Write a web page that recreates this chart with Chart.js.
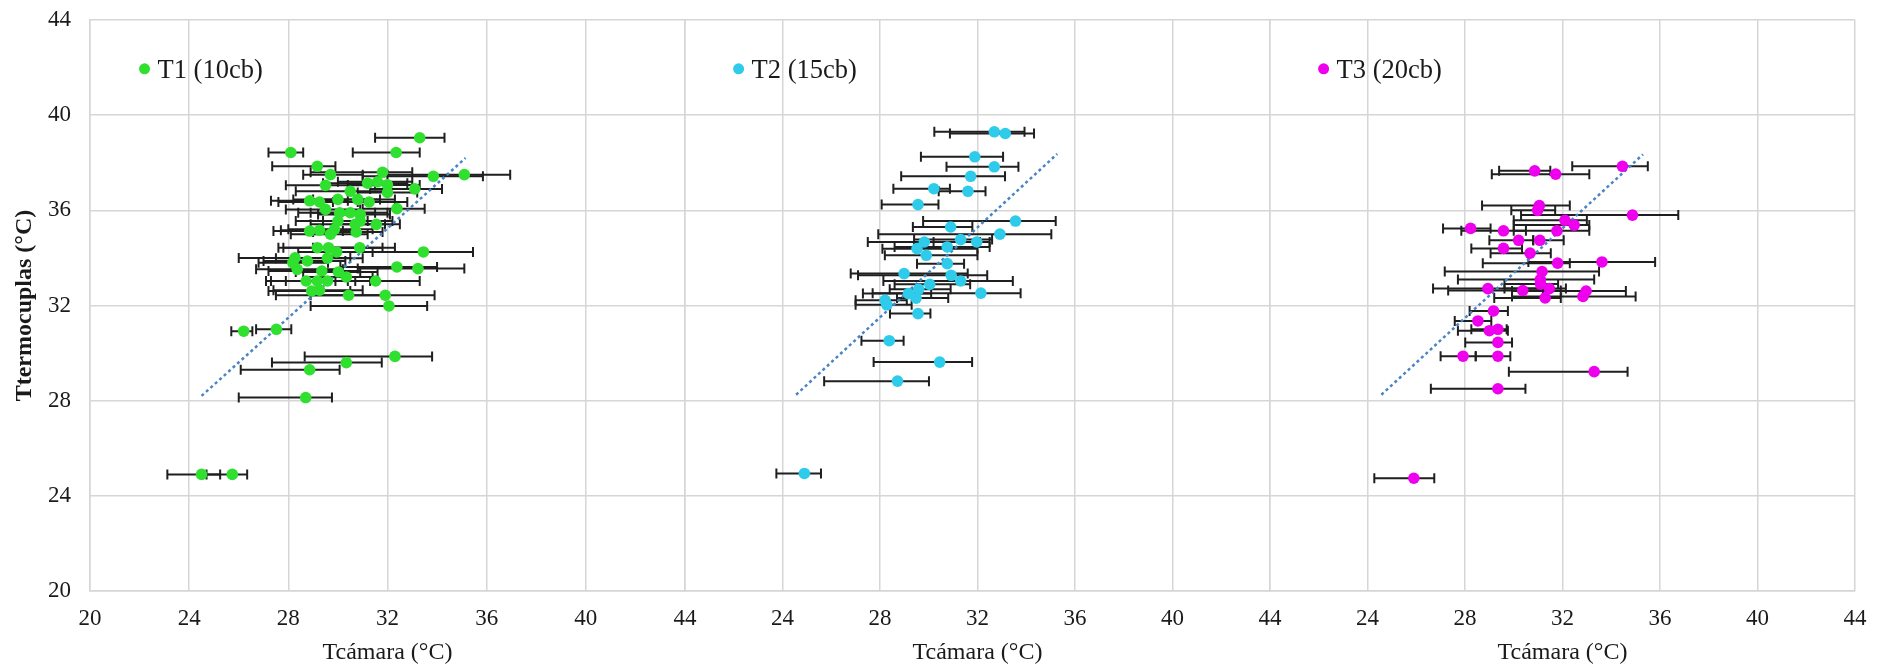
<!DOCTYPE html>
<html>
<head>
<meta charset="utf-8">
<script src="https://cdn.jsdelivr.net/npm/chart.js@4.4.1/dist/chart.umd.min.js"></script>
<style>
  html, body { margin: 0; padding: 0; background: #fff; }
  canvas { display: block; }
</style>
</head>
<body>
<canvas id="chart" width="1886" height="671"></canvas>
<script>
// T1 (10cb): Tcámara, Ttermocuplas, error bar ends on Tcámara
var t1Tcam = [33.3, 28.1, 32.35, 29.17, 29.7, 31.8, 33.85, 35.1, 29.5, 30.5, 31.2, 31.6, 32.0, 32.0, 33.1, 28.86, 29.26, 30.0, 30.8, 31.26, 29.5, 32.38, 30.07, 30.5, 30.9, 30.9, 30.7, 31.55, 30.0, 29.86, 28.86, 29.26, 29.7, 30.74, 29.17, 29.62, 29.95, 30.88, 33.45, 28.27, 28.18, 28.77, 29.58, 28.36, 29.35, 30.02, 32.38, 33.23, 30.34, 28.72, 29.17, 29.58, 31.52, 28.94, 29.26, 30.43, 31.91, 32.06, 26.2, 27.52, 32.3, 30.34, 28.86, 28.7, 24.5, 25.74];
var t1Ttermo = [39.05, 38.43, 38.43, 37.85, 37.5, 37.6, 37.43, 37.5, 37.05, 36.8, 37.14, 37.2, 37.07, 36.75, 36.9, 36.4, 36.35, 36.46, 36.46, 36.35, 36.04, 36.07, 35.9, 35.9, 35.83, 35.55, 35.41, 35.41, 35.55, 35.2, 35.13, 35.16, 35.0, 35.09, 34.43, 34.43, 34.25, 34.43, 34.25, 34.0, 33.8, 33.87, 33.99, 33.52, 33.45, 33.41, 33.62, 33.55, 33.2, 33.03, 33.03, 33.03, 33.03, 32.61, 32.64, 32.43, 32.43, 31.98, 30.92, 31.0, 29.86, 29.6, 29.3, 28.13, 24.9, 24.9];
var t1Lo = [31.5, 27.2, 30.6, 27.35, 28.6, 28.9, 31.0, 32.0, 27.9, 28.3, 29.4, 30.0, 30.4, 30.8, 31.3, 27.3, 27.6, 28.2, 29.0, 29.8, 27.9, 31.0, 28.4, 28.9, 29.2, 29.4, 28.9, 30.0, 28.3, 28.0, 27.4, 27.7, 28.1, 29.0, 27.6, 27.8, 28.4, 29.0, 29.8, 26.0, 26.8, 27.0, 27.5, 26.7, 27.2, 28.3, 30.1, 30.8, 28.6, 27.1, 27.3, 27.9, 29.9, 27.2, 27.4, 27.5, 28.9, 28.9, 25.7, 26.7, 28.66, 27.34, 26.08, 26.0, 23.12, 24.7];
var t1Hi = [34.3, 28.6, 33.3, 29.9, 31.0, 33.0, 35.85, 36.95, 31.5, 32.0, 32.8, 33.0, 33.3, 33.2, 34.2, 30.4, 30.8, 31.7, 32.3, 32.8, 30.9, 33.5, 31.5, 32.0, 32.1, 32.2, 31.9, 32.5, 31.2, 31.4, 30.2, 30.6, 31.2, 31.8, 31.8, 30.9, 31.4, 32.3, 35.45, 30.5, 29.6, 30.3, 31.0, 30.2, 30.9, 31.6, 34.0, 35.1, 31.4, 30.4, 30.7, 31.3, 33.3, 30.5, 31.0, 31.9, 33.9, 33.6, 26.55, 28.12, 33.8, 31.77, 30.07, 29.76, 25.25, 26.34];

// T2 (15cb)
var t2Tcam = [32.69, 33.14, 31.89, 32.69, 31.72, 30.21, 31.61, 29.56, 33.56, 30.9, 32.92, 29.82, 31.31, 31.97, 29.52, 30.76, 29.9, 30.76, 28.99, 30.92, 31.31, 30.04, 29.59, 29.17, 29.48, 32.14, 28.21, 28.28, 29.56, 28.38, 30.45, 28.72, 24.9];
var t2Ttermo = [39.3, 39.23, 38.25, 37.83, 37.43, 36.91, 36.8, 36.24, 35.55, 35.3, 35.0, 34.67, 34.77, 34.67, 34.39, 34.46, 34.11, 33.76, 33.34, 33.27, 33.03, 32.89, 32.68, 32.5, 32.31, 32.52, 32.22, 32.03, 31.66, 30.52, 29.62, 28.82, 24.94];
var t2Lo = [30.23, 30.87, 29.68, 30.73, 28.87, 28.55, 30.41, 28.07, 29.77, 29.35, 27.93, 27.5, 29.4, 30.2, 28.1, 28.6, 28.2, 29.52, 26.8, 27.1, 28.14, 28.6, 28.4, 27.3, 28.7, 27.7, 27.0, 27.0, 28.41, 27.24, 27.74, 25.71, 23.75];
var t2Hi = [33.93, 34.32, 33.05, 33.68, 33.13, 30.87, 32.33, 30.4, 35.21, 31.79, 35.03, 32.1, 32.6, 32.5, 32.0, 32.5, 32.0, 31.45, 31.6, 32.4, 33.45, 31.7, 30.9, 30.1, 30.8, 33.77, 29.1, 29.3, 30.07, 28.97, 31.78, 30.01, 25.58];

// T3 (20cb)
var t3Tcam = [30.86, 31.72, 34.46, 31.05, 30.98, 34.87, 32.1, 32.48, 28.23, 29.58, 31.77, 30.2, 31.07, 29.58, 30.67, 31.8, 33.62, 31.16, 31.09, 31.1, 28.94, 30.37, 31.46, 31.29, 32.97, 32.84, 29.17, 28.53, 29.0, 29.35, 29.35, 27.92, 29.35, 33.3, 29.35, 25.9];
var t3Ttermo = [37.66, 37.52, 37.85, 36.2, 36.0, 35.8, 35.58, 35.38, 35.24, 35.14, 35.14, 34.74, 34.74, 34.4, 34.2, 33.78, 33.83, 33.43, 33.09, 32.9, 32.71, 32.63, 32.71, 32.32, 32.61, 32.38, 31.77, 31.35, 30.94, 31.0, 30.45, 29.87, 29.87, 29.22, 28.5, 24.74];
var t3Lo = [29.4, 29.1, 32.4, 28.7, 29.9, 30.3, 30.0, 30.0, 27.1, 27.85, 30.0, 29.0, 30.8, 28.26, 29.05, 28.73, 30.6, 27.17, 27.71, 29.62, 26.69, 27.31, 29.62, 29.2, 29.93, 29.93, 28.19, 27.58, 27.71, 28.26, 28.01, 27.0, 28.44, 29.8, 26.6, 24.28];
var t3Hi = [31.5, 33.1, 35.5, 32.3, 31.7, 36.75, 33.0, 33.1, 29.05, 30.5, 33.1, 30.8, 32.05, 30.34, 31.52, 32.3, 35.8, 33.5, 33.3, 31.82, 31.2, 31.93, 32.14, 31.93, 34.6, 35.0, 29.76, 29.08, 29.76, 29.71, 29.93, 28.44, 29.86, 34.67, 30.48, 26.74];

// trend lines (two end points each)
var trend1X = [24.5, 35.15], trend1Y = [28.2, 38.2];
var trend2X = [24.56, 35.27], trend2Y = [28.25, 38.37];
var trend3X = [24.57, 35.3], trend3Y = [28.25, 38.35];

var seriesNames = ['T1 (10cb)', 'T2 (15cb)', 'T3 (20cb)'];
var seriesColors = ['#2fe02f', '#2ecbeb', '#ee00ee'];

function points(xs, ys) {
    return xs.map(function (x, i) { return { x: x, y: ys[i] }; });
}

var gridColor = '#d6d6d6';
var textColor = '#1a1a1a';
var serif = '"Liberation Serif", "Times New Roman", serif';

// horizontal error bars, drawn below the markers
var errorBars = {
    id: 'errorBars',
    beforeDatasetsDraw: function (chart) {
        var ctx = chart.ctx;
        var yScale = chart.scales.y;
        ctx.save();
        ctx.strokeStyle = '#1f1f1f';
        ctx.lineWidth = 2;
        chart.data.datasets.forEach(function (ds) {
            if (!ds.errLo) return;
            var xScale = chart.scales[ds.xAxisID];
            ds.data.forEach(function (p, i) {
                var y = yScale.getPixelForValue(p.y);
                var x1 = xScale.getPixelForValue(ds.errLo[i]);
                var x2 = xScale.getPixelForValue(ds.errHi[i]);
                ctx.beginPath();
                ctx.moveTo(x1, y); ctx.lineTo(x2, y);
                ctx.moveTo(x1, y - 5); ctx.lineTo(x1, y + 5);
                ctx.moveTo(x2, y - 5); ctx.lineTo(x2, y + 5);
                ctx.stroke();
            });
        });
        ctx.restore();
    }
};

// one legend entry in the top-left corner of each panel
var panelLegends = {
    id: 'panelLegends',
    afterDatasetsDraw: function (chart) {
        var ctx = chart.ctx;
        var yScale = chart.scales.y;
        ctx.save();
        chart.data.datasets.forEach(function (ds) {
            if (!ds.errLo) return;
            var xScale = chart.scales[ds.xAxisID];
            var x = xScale.getPixelForValue(22.2);
            var y = yScale.getPixelForValue(41.95);
            ctx.fillStyle = ds.backgroundColor;
            ctx.beginPath();
            ctx.arc(x, y, 5.5, 0, Math.PI * 2);
            ctx.fill();
            ctx.fillStyle = textColor;
            ctx.font = '26.5px ' + serif;
            ctx.textBaseline = 'middle';
            ctx.textAlign = 'left';
            ctx.fillText(ds.label, x + 13, y + 2);
        });
        ctx.restore();
    }
};

function panelAxis(weight, hideFirst) {
    return {
        type: 'linear',
        position: 'bottom',
        stack: 'panels',
        stackWeight: weight,
        min: 20,
        max: 44,
        ticks: {
            stepSize: 4,
            padding: 14,
            autoSkip: false,
            maxRotation: 0,
            color: textColor,
            font: { family: serif, size: 23 },
            callback: function (v) { return (hideFirst && v === 20) ? '' : v; }
        },
        grid: { color: gridColor, lineWidth: 1.5, drawTicks: false },
        border: { color: gridColor, width: 1.5 },
        title: {
            display: true,
            text: 'Tcámara (°C)',
            color: textColor,
            font: { family: serif, size: 24 },
            padding: { top: 6, bottom: 4 }
        },
        afterFit: function (s) { s.height = 80; }
    };
}

function scatterSet(i, xs, ys, lo, hi, axis) {
    return {
        type: 'scatter',
        label: seriesNames[i],
        data: points(xs, ys),
        errLo: lo,
        errHi: hi,
        xAxisID: axis,
        yAxisID: 'y',
        backgroundColor: seriesColors[i],
        borderWidth: 0,
        pointRadius: 5.8
    };
}

function trendSet(xs, ys, axis) {
    return {
        type: 'line',
        data: points(xs, ys),
        xAxisID: axis,
        yAxisID: 'y',
        borderColor: '#4a84c4',
        borderWidth: 2.5,
        borderDash: [3, 3],
        pointRadius: 0,
        fill: false
    };
}

var ctx = document.getElementById('chart').getContext('2d');

var myChart = new Chart(ctx, {
    type: 'scatter',
    data: {
        datasets: [
            scatterSet(0, t1Tcam, t1Ttermo, t1Lo, t1Hi, 'x1'),
            scatterSet(1, t2Tcam, t2Ttermo, t2Lo, t2Hi, 'x2'),
            scatterSet(2, t3Tcam, t3Ttermo, t3Lo, t3Hi, 'x3'),
            trendSet(trend1X, trend1Y, 'x1'),
            trendSet(trend2X, trend2Y, 'x2'),
            trendSet(trend3X, trend3Y, 'x3')
        ]
    },
    options: {
        responsive: false,
        animation: false,
        devicePixelRatio: 1,
        layout: { padding: { left: 0, top: 20, right: 31, bottom: 0 } },
        plugins: {
            legend: { display: false },
            tooltip: { enabled: false }
        },
        scales: {
            x1: panelAxis(1.017, false),
            x2: panelAxis(1, true),
            x3: panelAxis(1, true),
            y: {
                type: 'linear',
                position: 'left',
                min: 20,
                max: 44,
                ticks: {
                    stepSize: 4,
                    padding: 19,
                    color: textColor,
                    font: { family: serif, size: 23 }
                },
                grid: { color: gridColor, lineWidth: 1.5, drawTicks: false },
                border: { color: gridColor, width: 1.5 },
                title: {
                    display: true,
                    text: 'Ttermocuplas (°C)',
                    color: textColor,
                    font: { family: serif, size: 24, weight: 'bold' },
                    padding: { top: 10, bottom: 0 }
                },
                afterFit: function (s) {
                    s.width = 90;
                    s.paddingTop = 0;
                    s.paddingBottom = 0;
                }
            }
        }
    },
    plugins: [errorBars, panelLegends]
});
</script>
</body>
</html>
